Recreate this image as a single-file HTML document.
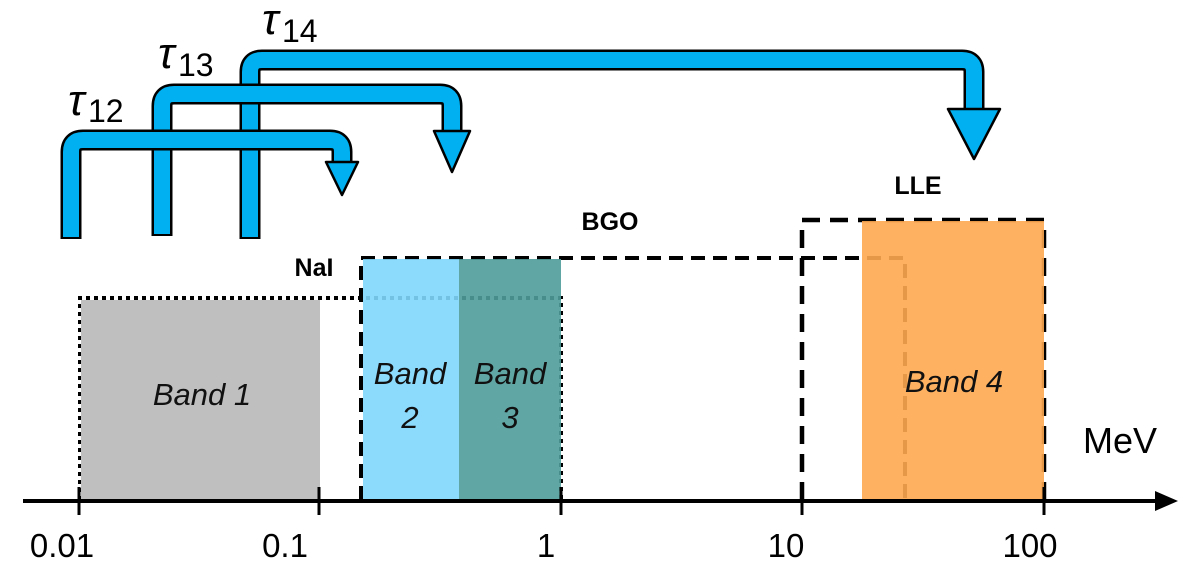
<!DOCTYPE html>
<html><head><meta charset="utf-8"><style>
html,body{margin:0;padding:0;background:#fff;}
svg{display:block;}
text{font-family:"Liberation Sans",sans-serif;}
</style></head><body>
<svg width="1200" height="575" viewBox="0 0 1200 575" xmlns="http://www.w3.org/2000/svg">
<g fill="none" stroke="#000">
<path d="M80 500 V298 H561 V500" stroke-width="4" stroke-dasharray="4 4"/>
<path d="M361 500 V258 H905 V500" stroke-width="4" stroke-dasharray="14 8"/>
<path d="M802 500 V220 H1044 V500" stroke-width="4.5" stroke-dasharray="18 10"/>
</g>
<rect x="81" y="300" width="239" height="200" fill="#bfbfbf"/>
<rect x="363" y="259" width="96" height="241" fill="#7fd6fc" fill-opacity="0.9"/>
<rect x="459" y="259" width="102" height="241" fill="#4f9c9a" fill-opacity="0.9"/>
<rect x="862" y="221" width="182" height="279" fill="#fea950" fill-opacity="0.9"/>
<line x1="23" y1="501" x2="1160" y2="501" stroke="#000" stroke-width="4"/>
<polygon points="1155,491 1178,501 1155,511" fill="#000"/>
<g stroke="#000" stroke-width="3">
<line x1="79" y1="487" x2="79" y2="515"/><line x1="319" y1="487" x2="319" y2="515"/>
<line x1="561" y1="487" x2="561" y2="515"/><line x1="802" y1="487" x2="802" y2="515"/>
<line x1="1044" y1="487" x2="1044" y2="515"/>
</g>
<g font-size="33" fill="#000" text-anchor="middle">
<text x="62" y="557">0.01</text><text x="285" y="557">0.1</text>
<text x="546" y="557">1</text><text x="786" y="557">10</text><text x="1030" y="557">100</text>
<text x="1120" y="453" font-size="36">MeV</text>
</g>
<g font-size="31" font-style="italic" fill="#111" text-anchor="middle">
<text x="202" y="405">Band 1</text>
<text x="410" y="384">Band</text><text x="410" y="428">2</text>
<text x="510" y="384">Band</text><text x="510" y="428">3</text>
<text x="954" y="392">Band 4</text>
</g>
<g font-size="25" font-weight="bold" fill="#000" text-anchor="middle">
<text x="314" y="276">NaI</text><text x="610" y="230">BGO</text><text x="918" y="194">LLE</text>
</g>
<g stroke-linejoin="round">
<path d="M250 239 V72 Q250 60 262 60 H962 Q974 60 974 72 V110" fill="none" stroke="#000" stroke-width="21"/>
<path d="M250 237 V72 Q250 60 262 60 H962 Q974 60 974 72 V112" fill="none" stroke="#00b0f0" stroke-width="16"/>
<polygon points="948,109 1000,109 974,159" fill="#00b0f0" stroke="#000" stroke-width="2.5"/>
<path d="M162 236 V106 Q162 94 174 94 H440 Q452 94 452 106 V132" fill="none" stroke="#000" stroke-width="21"/>
<path d="M162 234 V106 Q162 94 174 94 H440 Q452 94 452 106 V134" fill="none" stroke="#00b0f0" stroke-width="16"/>
<polygon points="434,131 470,131 452,172" fill="#00b0f0" stroke="#000" stroke-width="2.5"/>
<path d="M71 239 V152 Q71 140 83 140 H330 Q342 140 342 152 V163" fill="none" stroke="#000" stroke-width="21"/>
<path d="M71 237 V152 Q71 140 83 140 H330 Q342 140 342 152 V165" fill="none" stroke="#00b0f0" stroke-width="16"/>
<polygon points="326,162 358,162 342,195" fill="#00b0f0" stroke="#000" stroke-width="2.5"/>
</g>
<g font-family="Liberation Serif,serif" fill="#000">
<text x="68" y="115" font-size="44" font-style="italic">τ</text><text x="88" y="122" font-size="32">12</text>
<text x="158" y="68" font-size="44" font-style="italic">τ</text><text x="178" y="76" font-size="32">13</text>
<text x="262" y="34" font-size="44" font-style="italic">τ</text><text x="282" y="42" font-size="32">14</text>
</g>
</svg>
</body></html>
